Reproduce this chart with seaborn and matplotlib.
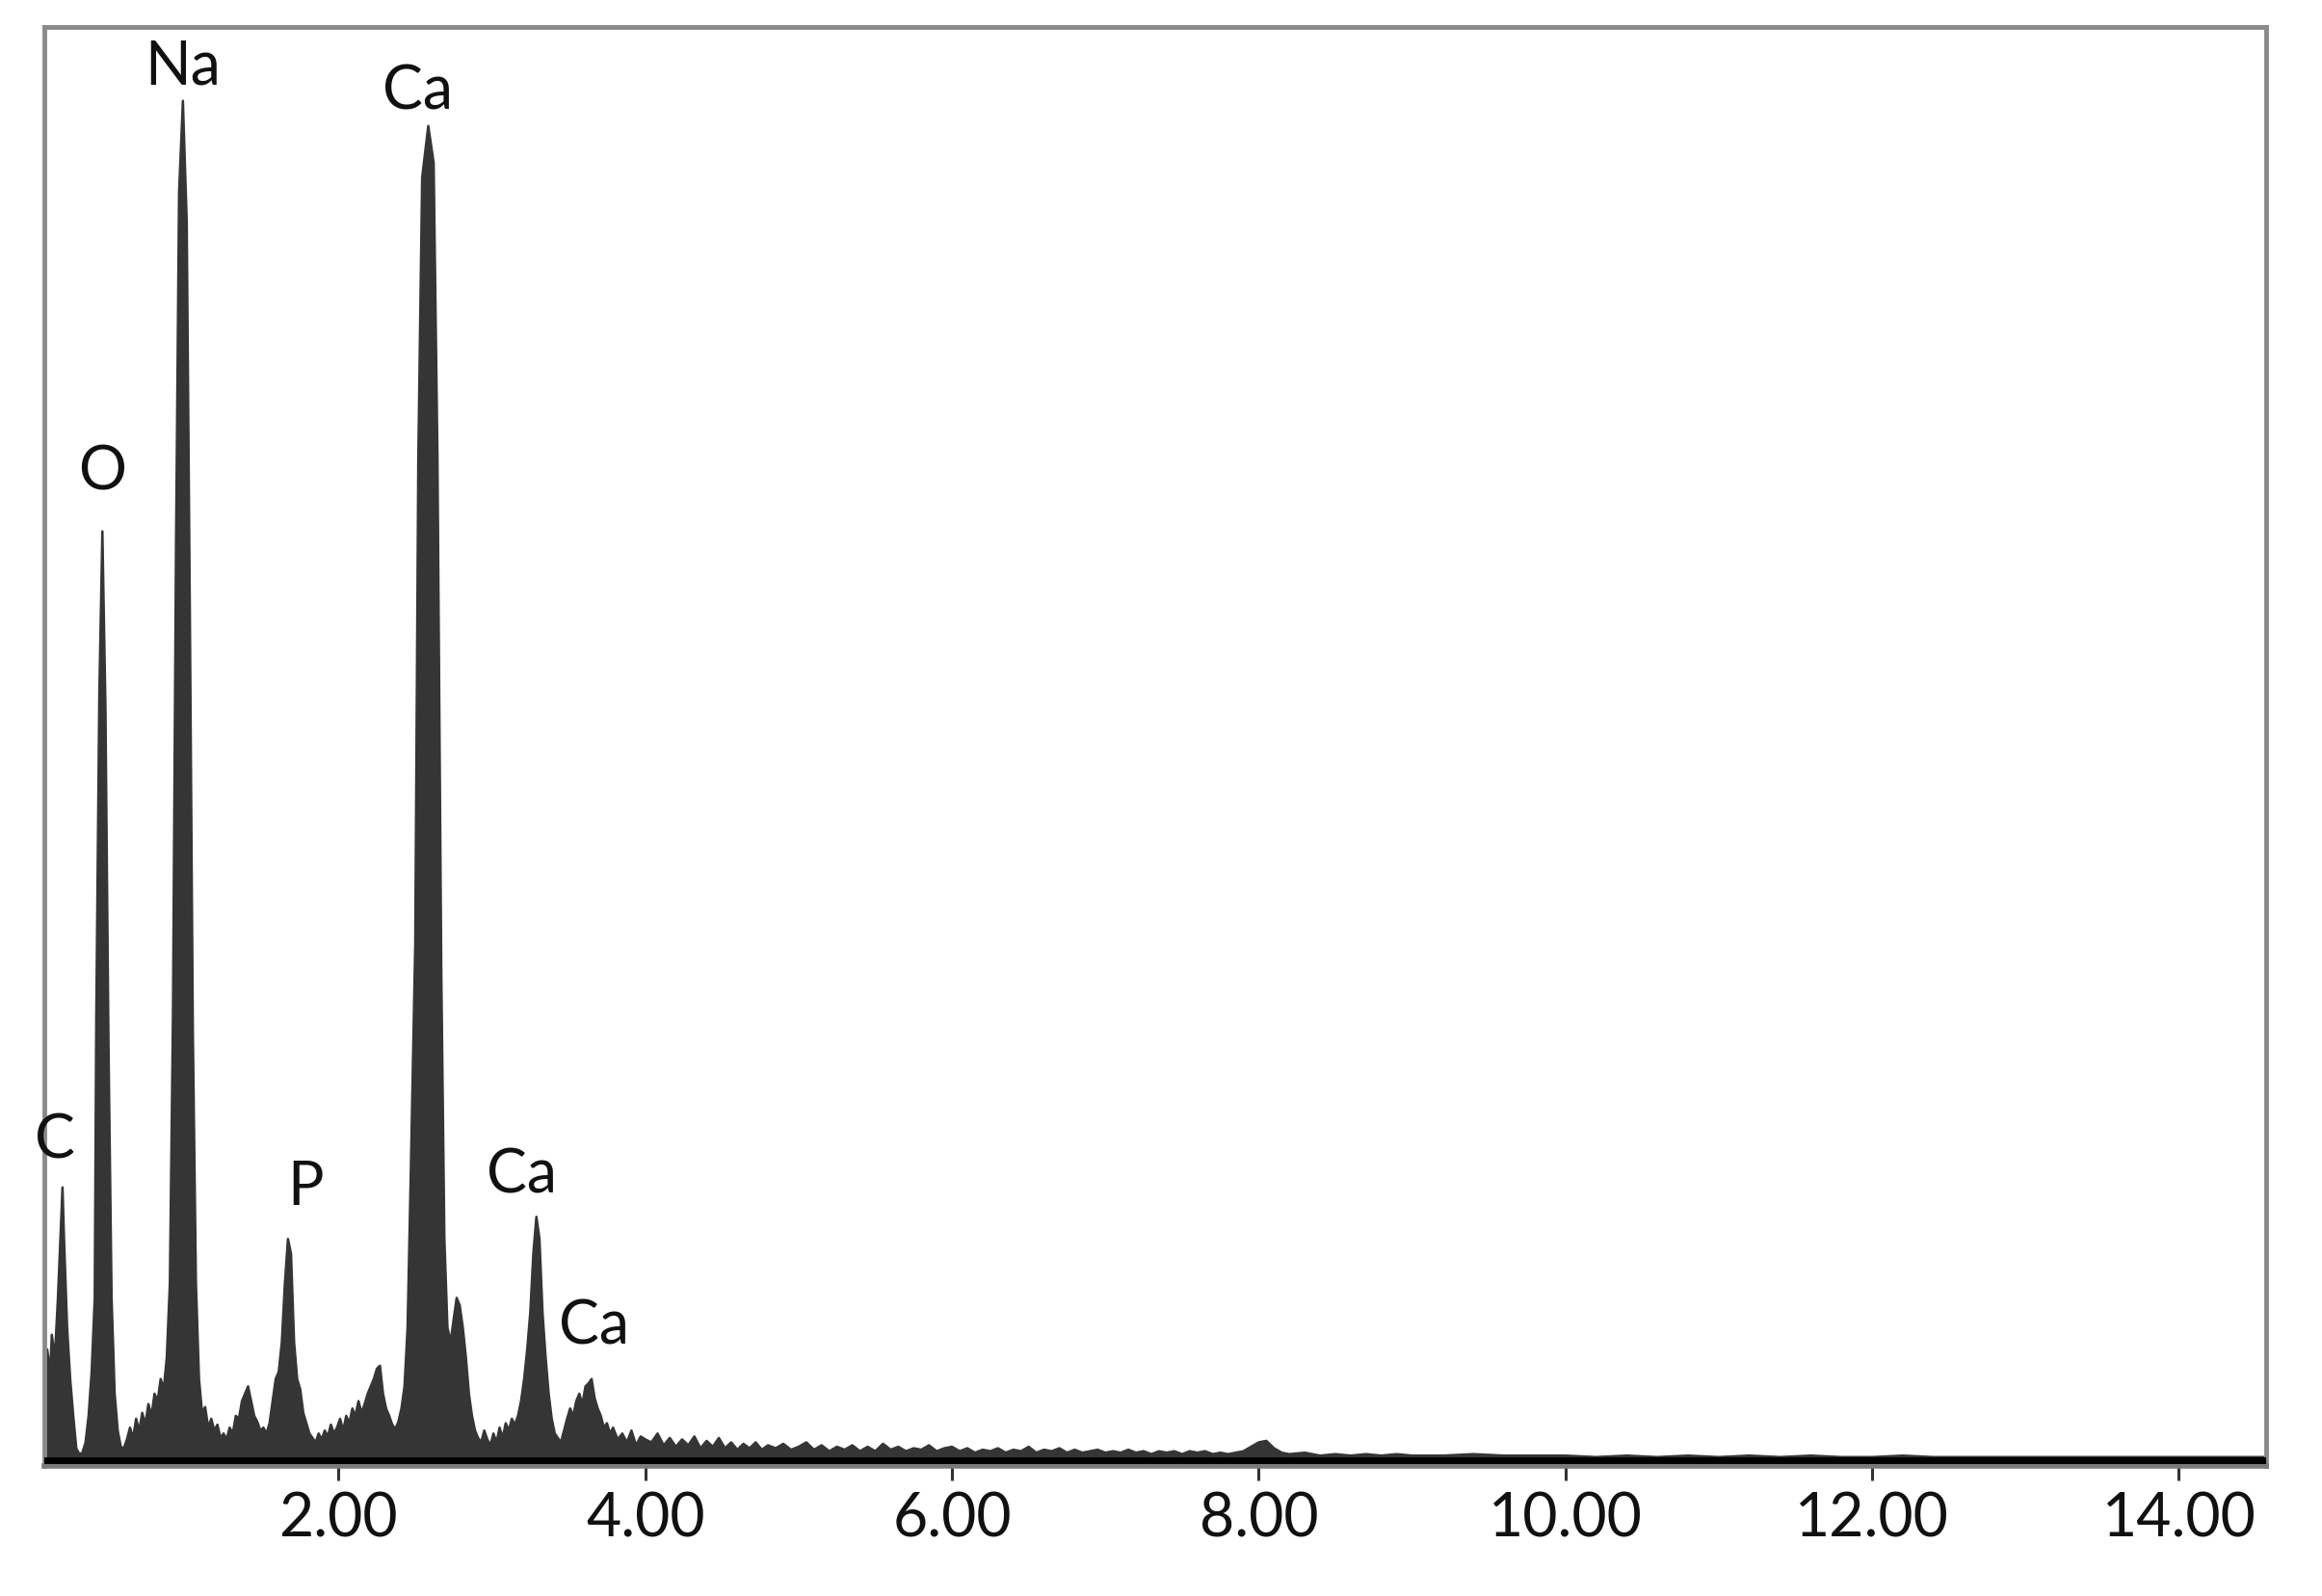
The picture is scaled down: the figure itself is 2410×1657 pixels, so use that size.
import numpy as np
import pandas as pd
import matplotlib
matplotlib.use("Agg")
import matplotlib.pyplot as plt
import seaborn as sns

# EDS spectrum (energy in keV, counts in arbitrary units)
energy = [
    0.08, 0.10, 0.12, 0.13, 0.15, 0.17, 0.19, 0.20, 0.21, 0.23, 0.25, 0.27, 0.29, 0.31,
    0.33, 0.35, 0.37, 0.39, 0.41, 0.42, 0.44, 0.46, 0.48, 0.50, 0.52, 0.54, 0.56, 0.58,
    0.60, 0.62, 0.64, 0.66, 0.68, 0.70, 0.72, 0.74, 0.76, 0.78, 0.80, 0.82, 0.84, 0.86,
    0.88, 0.90, 0.92, 0.94, 0.96, 0.985, 1.01, 1.03, 1.05, 1.07, 1.09, 1.11, 1.13, 1.15,
    1.17, 1.19, 1.21, 1.23, 1.25, 1.27, 1.29, 1.31, 1.33, 1.35, 1.37, 1.39, 1.41, 1.43,
    1.45, 1.47, 1.49, 1.51, 1.53, 1.55, 1.57, 1.59, 1.61, 1.63, 1.65, 1.67, 1.69, 1.71,
    1.73, 1.75, 1.77, 1.79, 1.81, 1.83, 1.85, 1.87, 1.89, 1.91, 1.93, 1.95, 1.97, 1.99,
    2.01, 2.03, 2.05, 2.07, 2.09, 2.11, 2.13, 2.15, 2.17, 2.19, 2.21, 2.23, 2.25, 2.27,
    2.29, 2.31, 2.33, 2.35, 2.37, 2.39, 2.41, 2.43, 2.45, 2.47, 2.50, 2.52, 2.545, 2.585,
    2.62, 2.645, 2.67, 2.69, 2.71, 2.73, 2.75, 2.77, 2.79, 2.81, 2.83, 2.85, 2.87, 2.89,
    2.91, 2.93, 2.95, 2.97, 2.99, 3.01, 3.03, 3.05, 3.07, 3.09, 3.11, 3.13, 3.15, 3.17,
    3.19, 3.21, 3.23, 3.25, 3.27, 3.29, 3.31, 3.33, 3.35, 3.37, 3.39, 3.41, 3.43, 3.45,
    3.47, 3.49, 3.51, 3.53, 3.55, 3.57, 3.59, 3.61, 3.63, 3.65, 3.67, 3.69, 3.71, 3.73,
    3.75, 3.77, 3.79, 3.82, 3.85, 3.88, 3.91, 3.94, 3.97, 4.00, 4.04, 4.08, 4.12, 4.16,
    4.20, 4.24, 4.28, 4.32, 4.36, 4.40, 4.44, 4.48, 4.52, 4.56, 4.60, 4.64, 4.68, 4.72,
    4.76, 4.80, 4.85, 4.90, 4.95, 5.00, 5.05, 5.10, 5.15, 5.20, 5.25, 5.30, 5.35, 5.40,
    5.45, 5.50, 5.55, 5.60, 5.65, 5.70, 5.75, 5.80, 5.85, 5.90, 5.95, 6.00, 6.05, 6.10,
    6.15, 6.20, 6.25, 6.30, 6.35, 6.40, 6.45, 6.50, 6.55, 6.60, 6.65, 6.70, 6.75, 6.80,
    6.85, 6.90, 6.95, 7.00, 7.05, 7.10, 7.15, 7.20, 7.25, 7.30, 7.35, 7.40, 7.45, 7.50,
    7.55, 7.60, 7.65, 7.70, 7.75, 7.80, 7.85, 7.90, 7.95, 8.00, 8.05, 8.10, 8.15, 8.20,
    8.30, 8.40, 8.50, 8.60, 8.70, 8.80, 8.90, 9.00, 9.20, 9.40, 9.60, 9.80, 10.0, 10.2,
    10.4, 10.6, 10.8, 11.0, 11.2, 11.4, 11.6, 11.8, 12.0, 12.2, 12.4, 12.6, 12.8, 13.0,
    13.2, 13.4, 13.6, 13.8, 14.0, 14.2, 14.4, 14.57,
]
counts = [
    40, 75, 60, 85, 70, 110, 160, 185, 150, 90, 55, 30, 8, 4,
    5, 12, 30, 60, 110, 300, 520, 630, 510, 280, 110, 45, 20, 9,
    8, 14, 22, 15, 28, 20, 32, 24, 38, 30, 45, 40, 55, 48,
    70, 120, 300, 620, 860, 922, 840, 580, 290, 120, 55, 32, 36, 22,
    28, 20, 24, 15, 18, 14, 22, 18, 30, 28, 40, 45, 50, 40,
    30, 26, 20, 22, 18, 25, 40, 55, 60, 80, 120, 150, 140, 80,
    55, 48, 32, 25, 18, 15, 12, 18, 14, 20, 16, 24, 18, 22,
    28, 20, 30, 25, 35, 30, 40, 32, 38, 45, 50, 55, 62, 64,
    45, 35, 30, 24, 21, 26, 35, 50, 90, 190, 350, 680, 870, 905,
    880, 680, 330, 150, 90, 80, 95, 110, 105, 90, 70, 45, 30, 20,
    15, 12, 20, 14, 10, 18, 12, 22, 15, 25, 20, 28, 24, 30,
    40, 55, 75, 100, 140, 165, 150, 100, 70, 45, 28, 18, 15, 12,
    20, 28, 35, 30, 40, 45, 38, 50, 52, 55, 42, 35, 30, 22,
    25, 18, 22, 14, 18, 12, 20, 10, 16, 14, 12, 18, 10, 15,
    9, 14, 10, 16, 8, 13, 9, 15, 8, 12, 7, 11, 8, 12,
    7, 10, 8, 11, 7, 9, 12, 7, 10, 6, 9, 7, 10, 6,
    9, 6, 11, 7, 9, 6, 8, 7, 10, 6, 8, 9, 6, 8,
    5, 7, 6, 8, 5, 7, 6, 9, 5, 7, 6, 8, 5, 7,
    5, 6, 7, 5, 6, 5, 7, 5, 6, 4, 6, 5, 6, 4,
    6, 5, 6, 4, 5, 4, 5, 6, 9, 12, 13, 8, 5, 4,
    5, 3, 4, 3, 4, 3, 4, 3, 3, 4, 3, 3, 3, 2,
    3, 2, 3, 2, 3, 2, 3, 2, 2, 3, 2, 2, 2, 2,
    2, 2, 2, 2, 2, 2, 2, 2,
]

# peak labels
peak_names = ["C", "O", "Na", "P", "Ca", "Ca", "Ca"]
peak_energy = [0.20, 0.46, 0.985, 1.69, 2.585, 3.29, 3.65]
peak_counts = [185, 630, 922, 150, 905, 165, 55]
label_offsets = [(-6, 35), (0, 44), (0, 25), (11, 38), (-8, 25), (-11, 31), (2, 39)]

tick_values = [2, 4, 6, 8, 10, 12, 14]

df = pd.DataFrame({"energy": energy, "counts": counts})

sns.set_style("white")
plt.rcParams['font.family'] = ['Lato', 'DejaVu Sans']

fig = plt.figure(figsize=(24.1, 16.57), dpi=100)
ax = fig.add_axes([0.019, 0.0815, 0.957, 0.9015])

fill_col = "#353535"
ax.fill_between(df["energy"], 0, df["counts"], color=fill_col, linewidth=0)
sns.lineplot(data=df, x="energy", y="counts", ax=ax, color=fill_col, linewidth=1.8)
ax.axhline(0, color="black", linewidth=5, zorder=3)

for name, e, c, off in zip(peak_names, peak_energy, peak_counts, label_offsets):
    ax.annotate(name, xy=(e, c), xytext=off, textcoords="offset points",
                ha="center", va="center", fontsize=45, color="#111111")

ax.set_xlim(0.08, 14.57)
ax.set_ylim(-4, 972)
ax.set_xticks(tick_values)
ax.set_xticklabels([f"{t:.2f}" for t in tick_values])
ax.set_yticks([])
ax.set_xlabel("")
ax.set_ylabel("")
ax.tick_params(axis="x", direction="out", length=11, width=2.2, color="#333333",
               labelsize=45, labelcolor="#111111", pad=8, bottom=True)

for side in ["left", "top", "right"]:
    ax.spines[side].set_color("#8a8a8a")
    ax.spines[side].set_linewidth(3.5)
ax.spines["bottom"].set_color("#7a7a7a")
ax.spines["bottom"].set_linewidth(4)

fig.savefig("out.png", dpi=100, facecolor="white")
